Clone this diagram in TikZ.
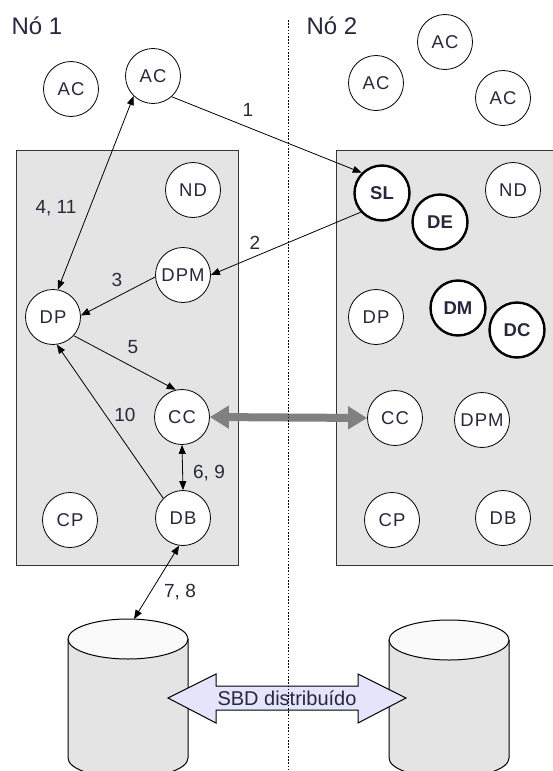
\documentclass[tikz,border=0pt]{standalone}
\usepackage{fontspec}
\setmainfont{Liberation Sans}
\usetikzlibrary{arrows.meta}
\definecolor{txt}{RGB}{40,40,60}
\definecolor{boxfill}{RGB}{228,228,228}
\definecolor{sbdfill}{RGB}{228,228,250}
\definecolor{greyarrow}{RGB}{128,128,128}
\begin{document}
\begin{tikzpicture}[x=1pt,y=-1pt,
  comp/.style={circle,draw=black,line width=0.8pt,fill=white,minimum size=55pt,inner sep=0pt,font=\fontsize{18.5}{18.5}\selectfont\addfontfeature{LetterSpace=6},text=txt},
  boldcomp/.style={comp,line width=2.4pt,font=\fontsize{18.5}{18.5}\selectfont\bfseries},
  lbl/.style={font=\fontsize{19}{19}\selectfont,text=txt,inner sep=0pt},
  hdr/.style={font=\fontsize{24}{24}\selectfont,text=txt,inner sep=0pt},
  conn/.style={draw=black,line width=0.8pt},
  >={Triangle[length=9pt,width=7pt]},
  boxstyle/.style={fill=boxfill,draw=black!80,line width=1pt},
]
\useasboundingbox (0,0) rectangle (553,771);
\clip (0,0) rectangle (553,771);
\fill[white] (0,0) rectangle (553,771);

% boxes
\path[boxstyle] (16,150) rectangle (238,565);
\path[boxstyle] (336,150) rectangle (570,565);

% headers
\node[hdr] (n1) at (37,26) {Nó 1};
\node[hdr] (n2) at (332,26) {Nó 2};

% cylinders
\filldraw[fill=boxfill,draw=black,line width=1pt] (68,639) -- (68,758) arc[start angle=180,end angle=0,x radius=60,y radius=20] -- (188,639);
\filldraw[fill=black!2,draw=black,line width=1pt] (128,639) ellipse[x radius=60,y radius=20];
\filldraw[fill=boxfill,draw=black,line width=1pt] (389,640) -- (389,758) arc[start angle=180,end angle=0,x radius=60,y radius=20] -- (509,640);
\filldraw[fill=black!2,draw=black,line width=1pt] (449,640) ellipse[x radius=60,y radius=20];
\coordinate (cyl1top) at (134,619);

% SBD arrow
\filldraw[fill=sbdfill,draw=black,line width=1pt] (168,698) -- (216,674) -- (216,686) -- (358,686) -- (358,674) -- (406,698) -- (358,723) -- (358,710) -- (216,710) -- (216,723) -- cycle;
\node[lbl,font=\fontsize{20}{20}\selectfont] (sbd) at (287,698) {SBD distribuído};

% dotted separator
\coordinate (sepTop) at (288,20);
\coordinate (sepBot) at (288,771);

% components node 1
\node[comp] (ac1) at (71,89) {AC};
\node[comp] (ac2) at (153,76) {AC};
\node[comp] (nd1) at (193,190) {ND};
\node[comp] (dpm1) at (183,275) {DPM};
\node[comp] (dp1) at (53,317) {DP};
\node[comp] (cc1) at (182,417) {CC};
\node[comp] (cp1) at (70,520) {CP};
\node[comp] (db1) at (183,518) {DB};

% components node 2
\node[comp] (ac3) at (445,42) {AC};
\node[comp] (ac4) at (376,83) {AC};
\node[comp] (ac5) at (503,98) {AC};
\node[comp] (nd2) at (513,190) {ND};
\node[boldcomp] (sl) at (382,193) {SL};
\node[boldcomp] (de) at (440,222) {DE};
\node[comp] (dp2) at (376,317) {DP};
\node[boldcomp] (dm) at (458,308) {DM};
\node[boldcomp] (dc) at (517,330) {DC};
\node[comp] (cc2) at (395,418) {CC};
\node[comp] (dpm2) at (482,420) {DPM};
\node[comp] (cp2) at (392,520) {CP};
\node[comp] (db2) at (503,518) {DB};

% grey thick arrow
\draw[greyarrow,line width=8pt,{Triangle[length=19pt,width=22pt]}-{Triangle[length=19pt,width=22pt]}] (cc1.east) -- (cc2.west);

\draw[black,line width=1pt,dash pattern=on 1.6pt off 1.6pt] (sepTop) -- (sepBot);

% connectors
\draw[conn,->] (ac2.-48) -- (sl.135);
\draw[conn,->] (sl.222) -- (dpm1.east);
\draw[conn,->] (dpm1.184) -- (dp1.3);
\draw[conn,<->] (ac2.226) -- (dp1.80);
\draw[conn,->] (dp1.-42) -- (cc1.103);
\draw[conn,->] (db1.135) -- (dp1.-82);
\draw[conn,<->] (cc1.south) -- (db1.north);
\draw[conn,<->] (db1.262) -- (cyl1top);

% labels
\node[lbl] (l1) at (248,110) {1};
\node[lbl] (l2) at (255,243) {2};
\node[lbl] (l3) at (117,280) {3};
\node[lbl] (l4) at (56,208) {4, 11};
\node[lbl] (l5) at (133,347) {5};
\node[lbl] (l10) at (125,415) {10};
\node[lbl] (l6) at (209,473) {6, 9};
\node[lbl] (l7) at (180,592) {7, 8};
\end{tikzpicture}
\end{document}
